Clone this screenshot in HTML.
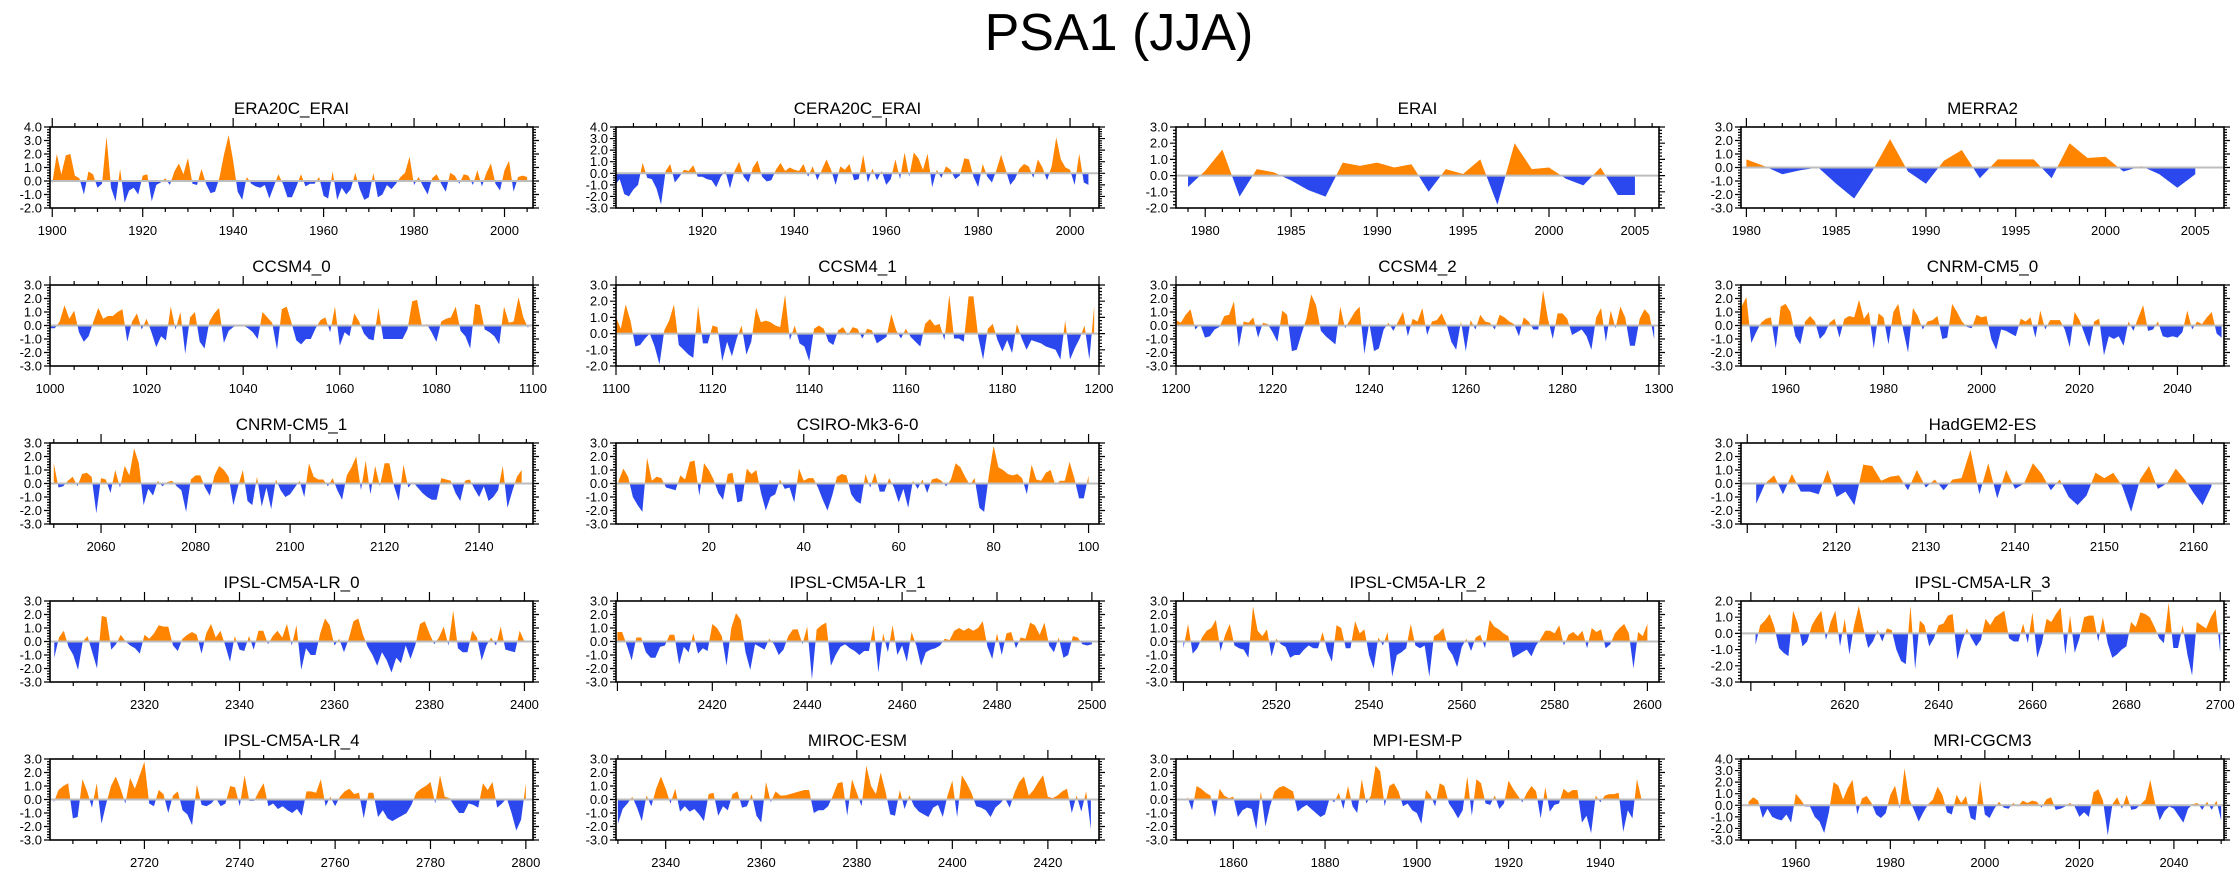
<!DOCTYPE html>
<html><head><meta charset="utf-8"><style>
html,body{margin:0;padding:0;background:#fff;}
svg{display:block;font-family:"Liberation Sans",sans-serif;}
</style></head><body>
<svg id="fig" width="2238" height="877" viewBox="0 0 2238 877" xmlns="http://www.w3.org/2000/svg">
<text x="1119" y="50" font-size="52" text-anchor="middle" fill="#000">PSA1 (JJA)</text>
</svg>
<script>
// ---- data: one value per year, starting at the panel's first year ----
const era20cValues=[-0.2,2.0,0.5,1.9,2.0,0.4,0.2,-1.0,0.7,0.5,-0.5,-0.2,3.3,-0.5,-1.5,0.9,-1.6,-0.7,-0.5,-1.0,0.4,0.5,-1.5,-0.3,-0.1,0.2,-0.3,0.7,1.3,0.5,1.7,-0.2,-0.3,0.9,-0.2,-0.9,-0.8,0.3,2.0,3.4,1.5,-0.8,-1.4,0.3,-0.2,-0.4,-0.5,-0.3,-1.3,-0.4,0.5,-0.2,-1.2,-1.2,-0.4,0.5,-0.4,-0.2,-0.2,0.3,-1.1,-1.3,0.7,-1.4,-0.5,-1.0,-0.6,0.6,-0.6,-1.4,-1.2,0.6,-1.2,-1.0,-0.3,-0.6,-0.2,0.3,0.6,1.8,-0.3,0.3,-0.4,-1.0,0.2,0.5,-0.2,-0.8,0.6,0.4,-0.2,0.5,0.4,-0.3,0.8,-0.4,0.6,1.3,-0.2,-0.7,0.8,1.5,-0.8,0.3,0.4,0.3];
const cera20cValues=[-1.0,-0.5,-1.8,-2.0,-1.4,-1.0,0.9,-0.4,-0.5,-1.3,-2.7,0.2,0.8,-0.8,-0.3,0.3,0.2,0.7,-0.3,-0.3,-0.5,-0.6,-1.2,-0.3,0.2,-1.3,0.2,1.0,-0.3,-0.8,0.5,1.1,-0.3,-0.7,-0.6,0.3,0.9,0.2,0.5,0.3,0.2,0.8,-0.3,0.6,-0.6,0.3,1.2,0.3,-1.0,0.6,0.3,0.8,-0.6,-0.5,1.6,-0.8,0.4,-0.6,0.2,-1.0,-0.5,1.2,-0.5,1.8,-0.3,1.8,1.3,0.3,1.7,-1.2,0.3,-0.4,0.6,0.3,-0.5,-0.2,1.3,1.2,-0.3,-1.2,0.8,-0.3,-0.8,0.3,1.6,0.3,-1.0,-0.5,0.4,0.8,0.6,-0.4,1.2,0.5,-0.6,0.6,3.1,1.2,0.5,0.3,-1.0,1.7,-0.8,-1.0];
const eraiValues=[-0.7,0.3,1.6,-1.3,0.4,0.2,-0.3,-0.9,-1.3,0.8,0.6,0.8,0.5,0.7,-1.0,0.4,0.1,1.0,-1.8,2.0,0.4,0.5,-0.2,-0.6,0.5,-1.2,-1.2];
const merra2Values=[0.6,0.1,-0.5,-0.2,0.0,-1.2,-2.3,-0.3,2.1,-0.3,-1.2,0.5,1.3,-0.8,0.6,0.6,0.6,-0.8,1.8,0.7,0.8,-0.3,0.1,-0.5,-1.5,-0.5];
const ccsm40Values=[-0.2,-0.2,0.3,1.5,0.5,1.1,-0.5,-1.2,-0.8,0.3,1.3,0.5,0.7,0.7,1.0,1.2,-1.2,0.3,0.9,-0.3,0.5,-0.5,-1.6,-0.8,-1.1,1.4,-0.3,1.0,-2.1,0.6,1.0,-1.2,-1.7,0.3,0.9,1.3,-1.3,-0.4,-0.1,0.0,0.0,-0.2,-0.5,-1.0,1.0,0.6,0.2,-1.8,1.2,1.4,0.2,-1.1,-1.4,-1.0,-1.0,-0.2,0.4,0.6,-0.5,1.4,-1.5,-0.5,-0.8,0.9,0.3,-0.6,-1.0,-1.1,1.3,-1.0,-1.0,-1.0,-1.0,-1.0,-0.3,1.8,1.9,0.0,0.1,-0.5,-1.2,0.3,0.5,0.6,1.4,-0.4,-0.8,-1.7,1.6,1.5,-0.3,-0.5,-0.8,-1.4,1.4,0.2,0.3,2.1,0.6,-0.2];
const ccsm41Values=[1.0,0.3,1.8,0.8,-0.8,-0.7,-0.3,0.0,-0.8,-1.9,0.2,0.8,1.8,-0.7,-1.0,-1.3,-1.5,1.7,-0.6,-0.6,0.5,0.4,-1.7,-0.5,-1.4,-0.3,0.5,-1.3,-0.5,1.6,0.7,0.8,0.7,0.5,0.4,2.4,-0.4,0.5,-0.6,-0.8,-1.7,0.3,0.5,0.3,-0.5,-0.7,0.2,0.4,-0.1,0.4,0.3,-0.3,0.3,0.2,-0.6,-0.4,-0.2,1.2,0.2,-0.3,0.3,-0.2,-0.5,-0.8,0.6,0.9,0.5,0.6,-0.4,2.4,-0.3,-0.3,-0.5,2.3,2.3,-0.2,-1.6,0.3,0.6,-0.4,-1.1,-0.4,-1.2,0.6,-0.3,-1.0,-0.4,-0.5,-0.6,-0.8,-0.9,-1.0,-1.6,0.8,-1.6,-0.9,-0.3,0.5,-1.6,1.7];
const ccsm42Values=[0.4,0.2,0.8,1.2,-0.3,0.1,-0.9,-0.8,-0.3,-0.1,0.7,0.8,1.8,-1.6,0.3,0.2,0.6,-0.9,0.2,0.1,-0.5,-1.2,1.1,0.8,-1.9,-1.8,-0.6,0.5,2.3,1.5,-0.4,-0.8,-1.1,-1.4,1.4,-0.2,0.4,1.0,1.4,-2.1,0.2,-1.9,-1.7,-0.3,0.2,-0.4,0.3,1.0,-0.8,0.5,0.3,1.3,-0.7,0.3,0.4,0.9,0.1,-1.2,-1.8,0.3,-1.9,0.4,-0.3,0.8,0.3,0.2,-0.3,0.8,0.6,0.3,0.1,-0.8,0.6,0.3,-0.3,-0.3,2.6,0.5,-1.0,0.9,0.9,0.5,-0.7,-0.5,-0.3,-0.8,-1.8,0.6,1.3,-1.2,1.1,-0.2,1.4,0.6,-1.5,-1.5,0.5,1.2,0.8,-1.0];
const cnrm0Values=[1.4,2.1,-1.3,-0.5,0.2,0.5,0.6,-1.7,1.4,1.6,1.0,-0.8,-1.4,0.3,0.7,0.3,-1.0,-0.6,0.2,0.5,-0.9,0.5,0.7,0.6,1.9,0.5,1.0,-1.7,0.9,0.6,-1.4,1.0,1.6,-0.3,-2.0,1.3,0.7,-0.3,0.3,0.4,0.7,-1.0,-0.9,1.6,1.0,0.3,-0.1,-0.2,0.8,0.6,0.7,-1.0,-1.8,-0.3,-0.4,-0.6,-0.8,0.5,0.3,0.6,-0.9,1.1,-0.3,0.4,0.4,0.4,-0.3,-1.6,1.0,0.4,-0.6,-1.6,0.3,0.5,-2.2,-0.8,-1.0,-0.8,-1.5,0.3,-0.4,0.6,1.5,-0.4,-0.3,0.3,-0.8,-0.9,-0.8,-0.9,-0.5,1.1,-0.3,0.3,0.1,0.6,1.0,-0.6,-0.9];
const cnrm1Values=[1.5,-0.3,-0.2,0.2,0.5,-0.2,0.7,0.8,0.5,-2.2,0.4,0.3,-0.7,1.0,-0.3,1.3,0.6,2.6,1.5,-1.6,-0.4,-0.9,0.2,-0.2,0.1,0.2,-0.2,-0.5,-2.1,0.3,0.6,0.6,-0.3,-0.9,0.6,1.3,1.0,0.5,-1.6,-0.2,1.0,-1.3,-1.6,0.5,-1.7,-0.3,-1.9,0.3,-0.5,-1.0,-0.8,-0.3,0.2,-1.0,1.5,0.5,0.3,0.3,-0.2,0.4,-0.5,-1.2,0.6,1.2,2.0,-0.5,1.7,-0.8,1.3,-0.2,1.5,1.5,-0.2,-1.3,1.4,-0.3,0.1,-0.3,-0.7,-1.0,-1.2,-1.2,0.4,0.3,0.2,-0.7,-1.3,0.2,0.3,-0.4,-1.0,-0.2,-1.3,-1.0,-0.5,1.3,-1.8,-0.6,0.5,1.0];
const csiroValues=[0.2,1.1,0.5,-1.0,-1.6,-2.1,1.9,0.2,0.5,0.4,-0.3,-0.4,-0.5,0.6,0.3,1.6,1.7,-0.9,1.5,1.0,0.3,-0.7,-1.2,0.7,0.8,-1.4,-1.3,1.1,0.7,1.0,-0.7,-2.0,-1.0,-0.8,0.3,-0.4,-0.3,-1.4,1.1,0.2,0.4,0.4,-0.3,-1.2,-2.0,-0.9,0.5,0.7,0.6,-0.8,-1.3,-1.5,0.7,-0.3,0.8,-0.6,-0.6,0.4,-0.3,-1.4,-0.4,-1.8,0.2,-0.4,0.3,-0.7,0.3,0.4,0.2,-0.2,0.3,1.5,1.2,0.5,-0.1,0.4,-1.8,-2.1,0.6,2.8,1.2,1.0,0.7,0.6,0.7,0.4,-0.8,1.4,0.3,0.2,0.8,1.0,-0.1,0.2,0.2,1.6,0.4,-1.1,-1.1,0.6];
const hadgemValues=[-1.5,0.0,0.6,-0.8,0.7,-0.6,-0.6,-0.8,1.0,-1.0,-0.6,-1.6,1.4,1.3,0.2,0.5,0.6,-0.5,1.0,-0.3,0.3,-0.5,0.3,0.4,2.5,-0.8,1.5,-1.1,1.0,-0.4,0.0,1.5,0.7,-0.5,0.3,-1.0,-1.6,-0.9,0.8,0.4,0.8,-0.2,-2.1,0.3,1.3,-0.4,0.0,1.1,0.3,-0.7,-1.6,-0.2];
const ipsl0Values=[-1.2,0.3,0.8,-0.4,-1.0,-2.1,0.0,0.4,-0.8,-2.0,1.9,1.8,-0.6,-0.2,0.5,0.0,-0.3,-0.5,-0.9,0.5,0.2,0.6,1.2,1.1,1.1,-0.3,-0.7,0.2,0.5,0.7,0.5,-0.9,0.6,1.3,0.3,0.8,-0.3,-1.5,0.4,-0.6,-0.7,0.4,-0.6,0.8,0.8,-0.2,0.4,0.8,0.3,1.3,-0.3,1.2,-2.1,-0.5,-1.0,-1.0,0.6,1.7,1.2,-0.3,0.2,-0.8,0.2,1.5,1.7,0.5,-0.4,-1.0,-1.8,-0.8,-1.4,-2.3,-1.2,-1.6,-0.3,-1.3,-0.3,1.3,1.5,0.6,-0.2,0.3,1.1,-0.3,2.3,-0.5,-0.8,-0.8,0.8,0.3,-1.4,-0.3,0.3,-0.3,1.1,-0.6,-0.7,-0.8,0.8,0.0];
const ipsl1Values=[0.7,0.7,-0.3,-1.4,0.3,0.3,-0.8,-1.2,-1.2,-0.4,-0.3,0.5,0.5,-1.7,-0.4,-0.8,0.6,-0.9,-0.5,-0.7,1.3,1.0,0.4,-1.8,1.0,2.1,1.6,-0.8,-2.1,-0.2,-0.4,-0.6,0.2,-0.2,-1.0,-0.6,0.4,0.9,0.9,-0.2,1.1,-2.8,0.9,1.2,1.4,-1.8,-1.0,-0.4,-0.2,-0.5,-0.7,-1.0,-0.7,-0.7,1.2,-2.3,0.6,-0.8,1.2,-1.0,-0.3,-1.5,0.7,-0.3,-1.8,-0.8,-0.6,-0.5,-0.3,0.2,0.1,0.8,1.0,0.8,1.0,0.8,1.0,1.5,-0.4,-1.3,0.6,-1.0,0.6,0.7,-0.5,0.3,0.2,1.4,1.2,0.5,1.4,-0.3,-0.8,0.3,-1.2,-1.0,0.4,0.3,-0.2,-0.3,-0.2];
const ipsl2Values=[-0.5,1.3,-0.9,-0.5,0.3,0.8,1.0,1.6,-0.7,0.5,1.3,-0.3,-0.5,-0.6,-1.2,2.6,0.8,0.4,0.9,-1.1,0.2,-0.2,-0.4,-1.2,-1.0,-1.0,-0.6,-0.3,-0.5,-0.5,0.7,-0.7,-1.5,1.2,1.0,-0.5,-0.5,1.5,0.6,0.9,-1.0,-2.0,0.3,-0.3,0.7,-2.6,-1.0,-0.8,-0.5,1.3,-0.3,-0.5,-0.3,-2.6,0.4,0.6,1.0,-0.5,-1.0,-1.9,-0.4,0.2,-0.7,0.3,0.5,-0.5,1.6,1.1,0.9,0.6,0.4,-1.2,-1.0,-0.8,-0.6,-1.1,-0.3,0.2,0.8,0.8,0.6,1.2,-0.3,0.5,0.7,0.4,0.8,-0.5,1.0,0.7,0.9,-0.5,-0.2,0.6,1.0,1.3,0.6,-2.0,0.7,0.4,1.3];
const ipsl3Values=[-0.7,0.5,0.8,1.2,0.4,-0.9,-1.2,-1.4,1.4,0.6,-0.8,-0.5,0.5,1.0,1.4,-0.4,0.7,1.4,-0.8,0.9,-1.3,0.5,1.7,0.3,-0.9,-0.5,0.2,-0.5,0.3,0.2,-1.0,-1.7,-1.9,1.7,-2.2,0.8,0.5,-0.8,-0.3,0.5,0.6,1.1,1.2,-1.6,-0.5,0.3,-0.3,-0.8,-0.4,0.9,0.5,1.0,1.2,1.4,-0.3,-0.5,-0.5,0.6,-0.6,1.3,-1.5,-0.6,0.9,0.7,1.2,1.6,-1.3,1.1,-1.2,-0.3,1.0,1.1,1.1,-0.5,1.0,-0.6,-1.5,-1.3,-1.0,-0.8,0.7,0.4,1.3,1.2,1.0,0.4,-0.3,-0.6,1.9,-0.9,-0.9,0.5,-1.3,-2.6,0.7,0.5,0.3,1.0,1.5,-1.2];
const ipsl4Values=[-0.2,0.7,1.0,1.2,-1.4,-1.3,1.5,0.6,-0.6,1.2,-1.8,-0.3,1.0,1.7,0.8,-0.3,1.6,0.8,1.8,2.8,-0.3,-0.5,0.7,0.4,-1.0,0.3,0.6,-0.8,-1.1,-1.9,1.1,-0.4,-0.5,-0.3,0.1,-0.5,-0.3,1.0,0.9,-0.5,1.8,-0.1,-0.1,0.6,1.2,-0.5,-0.3,-0.7,-0.5,-0.8,-1.0,-0.7,-1.2,0.6,0.6,0.5,1.5,-0.5,0.2,-0.5,0.2,0.6,0.8,0.4,0.5,-1.4,0.5,0.5,-1.3,-0.8,-1.4,-1.6,-1.4,-1.2,-1.0,-0.4,0.5,0.8,1.0,1.3,-0.3,1.8,0.2,0.1,-0.5,-1.0,-1.0,-0.3,-0.4,-0.6,1.2,0.7,1.3,-0.6,-0.3,0.1,-1.0,-2.3,-1.5,1.2];
const mirocValues=[-1.8,-0.7,-0.3,0.2,-0.6,-1.6,0.3,-0.5,0.8,1.7,0.8,-0.3,0.8,-0.9,-0.5,-0.9,-0.7,-1.1,-1.6,0.4,0.5,-1.2,-0.5,-0.8,0.4,0.6,-0.6,-0.5,0.4,-1.2,-1.7,1.3,-0.2,0.6,0.3,0.3,0.4,0.5,0.6,0.7,0.7,-1.0,-0.8,-0.8,-0.5,0.3,1.2,1.3,-1.2,1.5,0.5,-0.5,2.5,1.0,0.4,2.0,0.6,-1.1,-1.2,0.7,-0.7,0.3,-0.5,-0.9,-1.1,-1.3,-0.6,-0.4,-1.3,0.3,1.4,-1.3,1.8,1.2,0.5,-0.5,-0.6,-0.8,-1.3,-0.6,-0.3,0.1,-0.6,0.5,1.3,1.7,0.3,0.7,1.3,1.8,0.2,0.1,0.3,0.6,0.8,-1.0,0.3,-0.9,0.6,-2.2];
const mpiValues=[0.2,-0.8,1.0,0.8,0.5,0.3,-1.3,0.8,0.3,0.1,0.2,-1.3,-0.8,-0.6,-0.7,-2.2,0.6,-2.0,-0.5,0.6,0.9,1.0,0.8,0.6,-0.9,-0.6,-0.4,-0.7,-1.0,-1.3,-1.1,0.1,-0.2,0.5,-0.7,1.0,-0.5,-1.0,1.5,-0.3,0.3,2.5,2.1,-0.5,1.0,1.2,0.6,-0.5,-0.3,-0.8,-1.0,-1.8,0.7,0.3,-0.5,1.2,1.0,-0.3,-0.8,-1.4,-0.8,1.7,-1.2,1.5,1.2,-0.3,-0.4,0.3,-0.7,-0.3,1.4,0.8,0.3,-0.2,0.5,1.0,0.6,-1.4,0.9,-0.9,-0.4,-0.3,0.8,0.5,0.7,0.7,-1.7,-1.2,-2.5,0.3,-0.2,0.3,0.4,0.4,0.5,-2.4,-0.8,-1.4,1.5,0.0];
const mriValues=[0.3,0.7,0.4,-1.1,-0.3,-1.0,-1.2,-1.3,-0.8,-1.5,1.0,0.5,-0.1,-0.1,-1.0,-1.4,-2.4,-0.6,2.0,1.7,0.5,1.5,2.2,-0.8,0.6,0.8,0.2,-0.8,-1.1,-0.7,0.9,1.7,-0.3,3.2,0.5,-0.4,-1.4,-0.6,0.1,0.5,1.6,0.9,-0.6,-0.8,0.9,0.2,0.8,-1.1,-1.3,2.1,-0.8,-1.1,-0.3,0.3,-0.2,-0.3,0.2,-0.1,0.4,0.2,0.4,0.3,-0.2,0.5,0.7,-0.4,-0.3,-0.1,0.2,-0.1,-1.0,-0.6,-1.0,1.1,1.4,0.4,-2.6,0.1,0.7,-0.3,0.9,-0.4,-0.3,0.1,0.5,2.2,0.2,-1.3,-0.5,-0.1,-0.3,-0.9,-1.5,-0.3,0.1,0.2,-0.4,0.3,-0.4,0.4,-1.3];

const panelNames=["ERA20C_ERAI","CERA20C_ERAI","ERAI","MERRA2","CCSM4_0","CCSM4_1","CCSM4_2","CNRM-CM5_0","CNRM-CM5_1","CSIRO-Mk3-6-0","HadGEM2-ES","IPSL-CM5A-LR_0","IPSL-CM5A-LR_1","IPSL-CM5A-LR_2","IPSL-CM5A-LR_3","IPSL-CM5A-LR_4","MIROC-ESM","MPI-ESM-P","MRI-CGCM3"];
const panelSeries=[era20cValues,cera20cValues,eraiValues,merra2Values,ccsm40Values,ccsm41Values,ccsm42Values,cnrm0Values,cnrm1Values,csiroValues,hadgemValues,ipsl0Values,ipsl1Values,ipsl2Values,ipsl3Values,ipsl4Values,mirocValues,mpiValues,mriValues];
const panelStartYears=[1900,1901,1979,1980,1000,1100,1200,1951,2050,1,2111,2301,2400,2500,2601,2701,2330,1850,1950];
const panelXRanges=[[1899.5,2006.3],[1901.2,2006.3],[1978.3,2006.4],[1979.7,2006.6],[1000,1100],[1100,1200],[1200,1300],[1950.9,2049.5],[2049.2,2151.4],[0.45,102.2],[2109.3,2163.4],[2300.1,2401.8],[2399.7,2501.5],[2498.4,2602.5],[2597.9,2700.8],[2700.2,2801.5],[2329.6,2430.7],[1847.5,1952.8],[1948.4,2050.6]];
const panelYRanges=[[-2,4],[-3,4],[-2,3],[-3,3],[-3,3],[-2,3],[-3,3],[-3,3],[-3,3],[-3,3],[-3,3],[-3,3],[-3,3],[-3,3],[-3,2],[-3,3],[-3,3],[-3,3],[-3,4]];
const panelXMajor=[20,20,5,5,20,20,20,20,20,20,10,20,20,20,20,20,20,20,20];
const panelXMinor=[5,5,1,1,5,5,5,5,5,5,2,5,5,5,5,5,5,5,5];
const panelHiddenLabels=[[],[],[],[],[],[],[],[],[],[],[2110],[],[2400],[2500],[2600],[],[],[],[]];
const panelSlots=[[0,0],[0,1],[0,2],[0,3],[1,0],[1,1],[1,2],[1,3],[2,0],[2,1],[2,3],[3,0],[3,1],[3,2],[3,3],[4,0],[4,1],[4,2],[4,3]];

const NS="http://www.w3.org/2000/svg";
const svg=document.getElementById('fig');
const colLeft=[50,616,1176,1741], boxW=483, boxH=81, rowTop=127, rowStep=158;
function mk(tag,attrs,parent){const e=document.createElementNS(NS,tag);for(const k in attrs)e.setAttribute(k,attrs[k]);(parent||svg).appendChild(e);return e;}

panelNames.forEach((name,p)=>{
  const [r,c]=panelSlots[p];
  const L=colLeft[c], T=rowTop+r*rowStep, R=L+boxW, B=T+boxH;
  const [x0,x1]=panelXRanges[p], [y0,y1]=panelYRanges[p];
  const X=v=>L+(v-x0)/(x1-x0)*boxW;
  const Y=v=>B-(v-y0)/(y1-y0)*boxH;
  const g=mk('g',{});
  
  
  const t=mk('text',{x:(L+R)/2,y:T-13,'font-size':17,'text-anchor':'middle',fill:'#000'},g);
  t.textContent=name;
  
  
  const vals=panelSeries[p], s=panelStartYears[p];
  let pos=[],neg=[];
  for(let i=0;i<vals.length;i++){
    const xv=s+i,v=vals[i];
    if(i>0){const pv=vals[i-1];if((pv>0&&v<0)||(pv<0&&v>0)){const xc=xv-1+pv/(pv-v);pos.push([xc,0]);neg.push([xc,0]);}}
    pos.push([xv,Math.max(v,0)]);neg.push([xv,Math.min(v,0)]);
  }
  const poly=(pts)=>{const a=[[pts[0][0],0],...pts,[pts[pts.length-1][0],0]];return a.map(q=>X(q[0]).toFixed(2)+','+Y(q[1]).toFixed(2)).join(' ');};
  const pp=mk('polygon',{points:poly(pos),fill:'#ff8400'},g);
  
  
  const np=mk('polygon',{points:poly(neg),fill:'#2b48ef'},g);
  
  
  const zl=mk('line',{x1:L,x2:R,y1:Y(0),y2:Y(0),stroke:'#bdbdbd','stroke-width':2},g);
  
  
  const box=mk('rect',{x:L,y:T,width:boxW,height:boxH,fill:'none',stroke:'#000','stroke-width':1.6},g);
  
  
  let d='';
  for(let k=Math.round(y0*5);k<=Math.round(y1*5);k++){
    const v=k/5,yy=Y(v).toFixed(2),maj=(k%5===0),len=maj?6:3;
    d+=`M${L} ${yy}h${-len}M${R} ${yy}h${len}`;
    if(maj){const lb=mk('text',{x:L-8,y:+yy+4.5,'font-size':13,'text-anchor':'end',fill:'#000'},g);lb.textContent=v.toFixed(1);
      
      }
  }
  const mn=panelXMinor[p],mj=panelXMajor[p];
  for(let v=Math.ceil(x0/mn)*mn;v<=x1;v+=mn){
    const xx=X(v).toFixed(2),maj=(v%mj===0),len=maj?9:4;
    d+=`M${xx} ${T}v${-len}M${xx} ${B}v${len}`;
    if(maj && panelHiddenLabels[p].indexOf(v)<0){const lb=mk('text',{x:xx,y:B+27,'font-size':13,'text-anchor':'middle',fill:'#000'},g);lb.textContent=String(v);
      
      }
  }
  const tk=mk('path',{d:d,stroke:'#000','stroke-width':1.2,fill:'none'},g);
  
  
});
</script>
</body></html>
